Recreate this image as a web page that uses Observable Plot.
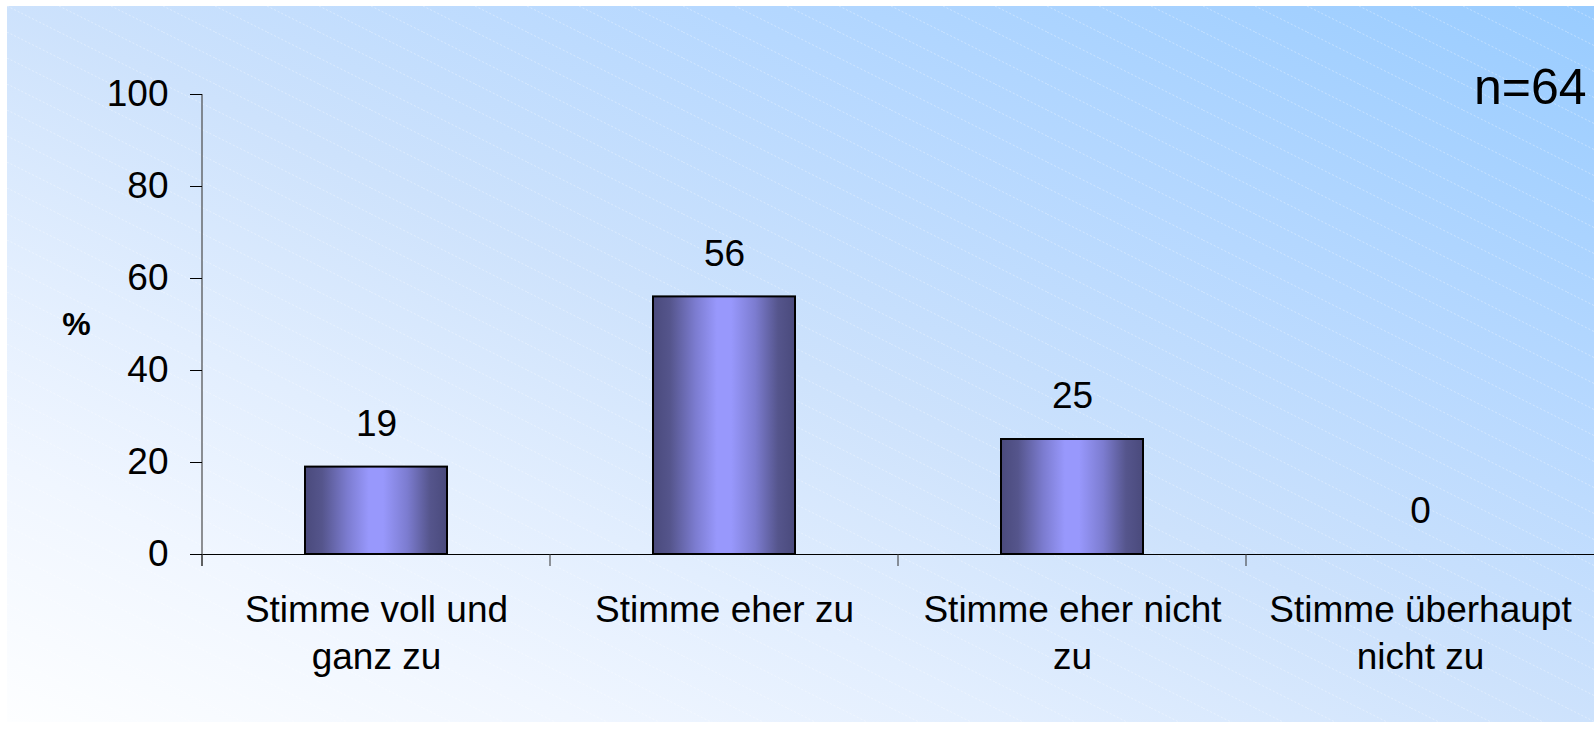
<!DOCTYPE html>
<html>
<head>
<meta charset="utf-8">
<script src="https://cdn.jsdelivr.net/npm/d3@7"></script>
<script src="https://cdn.jsdelivr.net/npm/@observablehq/plot@0.6"></script>
<style>
  html, body { margin: 0; padding: 0; background: #ffffff; }
  #wrap { position: relative; width: 1594px; height: 730px; background: #ffffff; overflow: hidden; }
  #bg { position: absolute; left: 7px; top: 6px; width: 1587px; height: 716px; }
  #chart { position: absolute; left: 0; top: 0; }
</style>
</head>
<body>
<div id="wrap">
  <div id="bg"></div>
  <div id="chart"></div>
</div>
<script>
// ---- data ----
const categories = ["Stimme voll und ganz zu", "Stimme eher zu", "Stimme eher nicht zu", "Stimme überhaupt nicht zu"];
const tickLabels = ["Stimme voll und\nganz zu", "Stimme eher zu", "Stimme eher nicht\nzu", "Stimme überhaupt\nnicht zu"];
const values = [19, 56, 25, 0];
const valueLabels = ["19", "56", "25", "0"];
const yTicks = [0, 20, 40, 60, 80, 100];
const sampleLabel = ["n=64"];
const unitLabel = ["%"];

const table = categories.map((c, i) => ({category: c, value: values[i], label: valueLabels[i]}));

// ---- background (gradient + faint dashed diagonal pattern) ----
const tile = "<svg xmlns='http://www.w3.org/2000/svg' width='52' height='26'>" +
  "<line x1='0' y1='0' x2='52' y2='26' stroke='white' stroke-opacity='0.35' stroke-width='1' stroke-dasharray='2 2'/></svg>";
document.getElementById("bg").style.background =
  "url(\"data:image/svg+xml;charset=utf-8," + encodeURIComponent(tile) + "\"), " +
  "linear-gradient(to top right, #fdfeff 0%, #f0f6ff 18%, #e2eefe 32%, #cde2fc 50%, #b6d8ff 72%, #99ccff 100%)";

const FONT = "'Liberation Sans', Arial, Helvetica, sans-serif";

// boundary ticks on the category axis + y axis line, computed from Plot's scales
function axisLines(index, scales, values, dimensions) {
  const x = scales.x, y = scales.y;
  const bw = typeof x.bandwidth === "function" ? x.bandwidth() : x.bandwidth;
  const step = x(categories[1]) - x(categories[0]);
  const g = d3.create("svg:g");
  const y0 = y(0);
  g.append("line")
    .attr("x1", dimensions.marginLeft).attr("x2", dimensions.marginLeft)
    .attr("y1", y(100)).attr("y2", y0 + 12)
    .attr("stroke", "#4a4a4a").attr("stroke-width", 1.2);
  categories.forEach(c => {
    const bx = x(c) + bw / 2 - step / 2;
    g.append("line")
      .attr("x1", bx).attr("x2", bx)
      .attr("y1", y0).attr("y2", y0 + 12)
      .attr("stroke", "#333").attr("stroke-width", 1);
  });
  return g.node();
}

const svg = Plot.plot({
  width: 1594,
  height: 730,
  marginLeft: 202,
  marginRight: 0,
  marginTop: 94,
  marginBottom: 176,
  style: {background: "transparent", fontFamily: FONT, color: "#000", overflow: "visible"},
  x: {type: "band", domain: categories, paddingInner: 0.592, paddingOuter: 0.296, label: null},
  y: {domain: [0, 100], label: null},
  marks: [
    Plot.barY(table, {x: "category", y: "value", fill: "url(#barGrad)", stroke: "#000", strokeWidth: 2}),
    Plot.ruleY([0], {stroke: "#000", strokeWidth: 1}),
    axisLines,
    Plot.axisY({ticks: yTicks, tickSize: 12, tickPadding: 22, fontSize: 37, stroke: "#000", label: null}),
    Plot.axisX({tickSize: 0, tickPadding: 35, fontSize: 37, lineHeight: 1.25, label: null,
      tickFormat: d => tickLabels[categories.indexOf(d)]}),
    Plot.text(table, {x: "category", y: "value", text: "label", dy: -43, fontSize: 37}),
    Plot.text(sampleLabel, {frameAnchor: "top-right", textAnchor: "end", dx: -8, dy: -26, fontSize: 50}),
    Plot.text(unitLabel, {frameAnchor: "left", textAnchor: "middle", dx: -126, fontSize: 32, fontWeight: "bold"})
  ]
});

// gradient definition for the bars
const defs = d3.select(svg).insert("defs", ":first-child");
const grad = defs.append("linearGradient").attr("id", "barGrad")
  .attr("x1", "0").attr("x2", "1").attr("y1", "0").attr("y2", "0");
[[0, "#4a4a7c"], [0.12, "#55558c"], [0.3, "#7c7cd0"], [0.45, "#9898fc"], [0.55, "#9898fc"], [0.72, "#7c7cd0"], [0.88, "#55558c"], [1, "#4a4a7c"]]
  .forEach(([o, c]) => grad.append("stop").attr("offset", o).attr("stop-color", c));

document.getElementById("chart").appendChild(svg);
</script>
</body>
</html>
